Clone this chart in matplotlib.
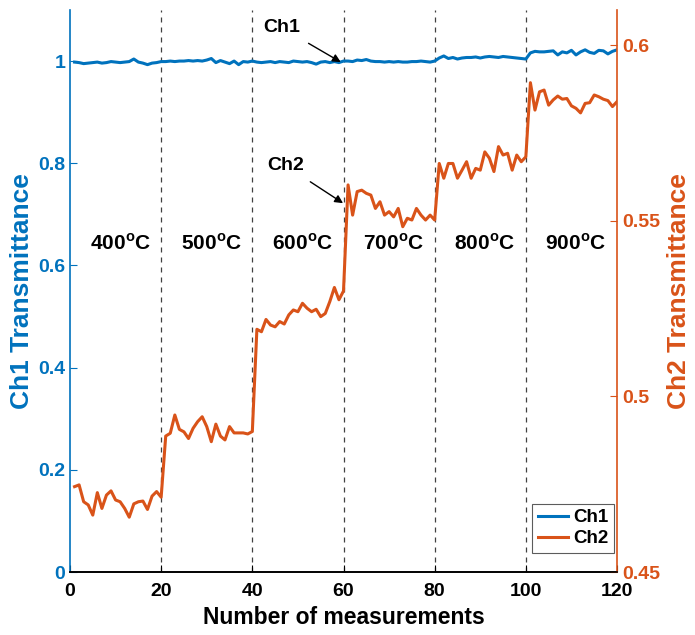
import numpy as np
import matplotlib
matplotlib.use("Agg")
import matplotlib.pyplot as plt
from matplotlib.ticker import FormatStrFormatter

plt.rcParams['font.family'] = ['Liberation Sans', 'DejaVu Sans']
plt.rcParams['font.weight'] = 'bold'
plt.rcParams['mathtext.fontset'] = 'custom'
plt.rcParams['mathtext.rm'] = 'Liberation Sans:bold'
plt.rcParams['mathtext.bf'] = 'Liberation Sans:bold'

BLUE = "#0072BD"
ORANGE = "#D95319"

# measurement index
meas = np.arange(1, 121)

# Ch1 transmittance (left axis)
ch1 = [0.998, 0.997, 0.995, 0.996, 0.997, 0.998, 0.996, 0.997, 0.999, 0.998,
       0.997, 0.998, 0.999, 1.004, 0.998, 0.996, 0.993, 0.996, 0.997, 0.999,
       0.999, 1.000, 0.999, 1.000, 1.000, 1.001, 1.000, 1.001, 1.000, 1.002,
       1.005, 0.997, 1.001, 0.998, 0.995, 1.000, 0.993, 0.999, 0.998, 1.000,
       0.998, 0.997, 0.998, 0.999, 0.997, 0.999, 0.998, 0.997, 1.000, 0.999,
       0.998, 0.999, 0.997, 0.994, 0.998, 0.999, 0.997, 0.999, 0.997, 1.000,
       1.000, 0.999, 1.002, 1.001, 1.003, 1.000, 0.999, 0.999, 0.998, 0.999,
       0.998, 0.999, 0.998, 0.998, 0.999, 0.999, 1.000, 0.999, 0.998, 1.000,
       1.006, 1.010, 1.005, 1.007, 1.004, 1.006, 1.007, 1.007, 1.008, 1.006,
       1.008, 1.009, 1.008, 1.007, 1.009, 1.008, 1.007, 1.006, 1.005, 1.004,
       1.016, 1.019, 1.018, 1.018, 1.019, 1.020, 1.012, 1.018, 1.016, 1.021,
       1.012, 1.018, 1.022, 1.017, 1.015, 1.021, 1.020, 1.014, 1.019, 1.022]

# Ch2 transmittance (right axis)
ch2 = [0.4743, 0.4748, 0.4700, 0.4691, 0.4662, 0.4726, 0.4681, 0.4719, 0.4731, 0.4705,
       0.4700, 0.4681, 0.4656, 0.4694, 0.4700, 0.4702, 0.4678, 0.4716, 0.4729, 0.4713,
       0.4887, 0.4895, 0.4947, 0.4906, 0.4899, 0.4880, 0.4909, 0.4928, 0.4942, 0.4914,
       0.4871, 0.4921, 0.4887, 0.4876, 0.4914, 0.4896, 0.4896, 0.4896, 0.4893, 0.4900,
       0.5191, 0.5184, 0.5219, 0.5203, 0.5198, 0.5213, 0.5206, 0.5232, 0.5246, 0.5241,
       0.5265, 0.5251, 0.5241, 0.5248, 0.5227, 0.5236, 0.5270, 0.5310, 0.5275, 0.5300,
       0.5602, 0.5516, 0.5583, 0.5587, 0.5578, 0.5573, 0.5535, 0.5554, 0.5516, 0.5526,
       0.5511, 0.5535, 0.5483, 0.5507, 0.5502, 0.5535, 0.5516, 0.5502, 0.5516, 0.5502,
       0.5663, 0.5621, 0.5663, 0.5663, 0.5621, 0.5644, 0.5668, 0.5621, 0.5649, 0.5644,
       0.5696, 0.5678, 0.5640, 0.5711, 0.5687, 0.5692, 0.5644, 0.5687, 0.5668, 0.5682,
       0.5893, 0.5815, 0.5867, 0.5872, 0.5829, 0.5844, 0.5855, 0.5846, 0.5848, 0.5827,
       0.5820, 0.5807, 0.5834, 0.5836, 0.5858, 0.5853, 0.5846, 0.5842, 0.5825, 0.5839]

boundaries = [20, 40, 60, 80, 100]
temp_labels = ["400", "500", "600", "700", "800", "900"]
temp_centers = [11, 31, 51, 71, 91, 111]

fig = plt.figure(figsize=(6.95, 6.35), dpi=100)
ax = fig.add_axes([0.1007, 0.0992, 0.7871, 0.8851])
ax2 = ax.twinx()

for b in boundaries:
    ax.axvline(b, color="0.25", ls=(0, (4, 4)), lw=0.9, zorder=1)

l1, = ax.plot(meas, ch1, color=BLUE, lw=2.2, label="Ch1", zorder=3)
l2, = ax2.plot(meas, ch2, color=ORANGE, lw=2.2, label="Ch2", zorder=3)

ax.set_xlim(0, 120)
ax.set_ylim(0, 1.1)
ax2.set_ylim(0.45, 0.61)
ax.set_xticks(range(0, 121, 20))
ax.set_yticks([0, 0.2, 0.4, 0.6, 0.8, 1])
ax2.set_yticks([0.45, 0.5, 0.55, 0.6])
ax.yaxis.set_major_formatter(FormatStrFormatter('%g'))
ax2.yaxis.set_major_formatter(FormatStrFormatter('%g'))

for a in (ax, ax2):
    a.spines['top'].set_visible(False)
ax.spines['left'].set_color(BLUE)
ax.spines['right'].set_visible(False)
ax2.spines['left'].set_visible(False)
ax2.spines['right'].set_color(ORANGE)
for a in (ax, ax2):
    for s in a.spines.values():
        s.set_linewidth(1.2)

ax.tick_params(axis='x', direction='in', length=5, labelsize=14, pad=8)
ax.tick_params(axis='y', direction='in', length=5, labelsize=14, colors=BLUE)
ax2.tick_params(axis='y', direction='in', length=5, labelsize=14, colors=ORANGE)

ax.set_xlabel("Number of measurements", fontsize=16.5, fontweight='bold', labelpad=4)
ax.set_ylabel("Ch1 Transmittance", fontsize=19, fontweight='bold', color=BLUE, labelpad=3)
ax2.set_ylabel("Ch2 Transmittance", fontsize=19, fontweight='bold', color=ORANGE, labelpad=5)

for t, c in zip(temp_labels, temp_centers):
    ax.text(c, 0.643, t + r"$^{\mathrm{o}}$C", ha='center', va='center',
            fontsize=15, fontweight='bold')

ax.annotate("Ch1", xy=(59.4, 0.998), xytext=(46.5, 1.065),
            ha='center', va='center', fontsize=14, fontweight='bold',
            arrowprops=dict(arrowstyle='-|>', color='k', lw=1, mutation_scale=12,
                            shrinkA=6, shrinkB=0))
ax2.annotate("Ch2", xy=(59.9, 0.555), xytext=(47.4, 0.5656),
             ha='center', va='center', fontsize=14, fontweight='bold',
             arrowprops=dict(arrowstyle='-|>', color='k', lw=1, mutation_scale=12,
                             shrinkA=6, shrinkB=0))

leg = ax2.legend([l1, l2], ["Ch1", "Ch2"], loc='lower right',
                 bbox_to_anchor=(0.9945, 0.034), fontsize=13.5,
                 fancybox=False, edgecolor='0.2', handlelength=1.6,
                 borderaxespad=0, borderpad=0.3, labelspacing=0.2, handletextpad=0.3)
leg.get_frame().set_linewidth(0.8)

fig.savefig("out.png", dpi=100)
